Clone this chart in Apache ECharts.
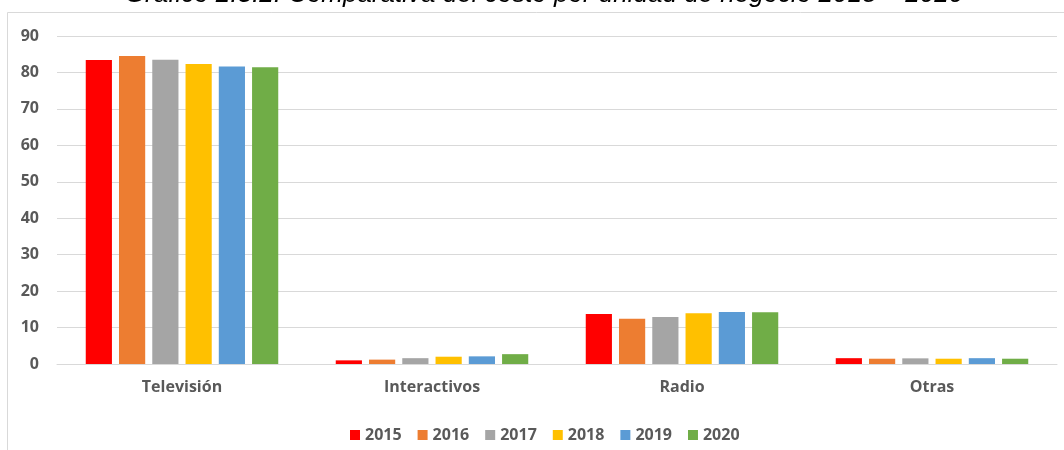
<!DOCTYPE html>
<html>
<head>
<meta charset="utf-8">
<script src="https://cdn.jsdelivr.net/npm/echarts@6/dist/echarts.min.js"></script>
<style>
  html, body { margin: 0; padding: 0; background: #fff; }
  #main { width: 1064px; height: 450px; }
</style>
</head>
<body>
<div id="main"></div>
<script>
// categories and per-year values (costo por unidad de negocio)
const categories = ['Televisión', 'Interactivos', 'Radio', 'Otras'];
const years = ['2015', '2016', '2017', '2018', '2019', '2020'];
const v2015 = [83.4, 1.0, 13.7, 1.6];
const v2016 = [84.5, 1.2, 12.4, 1.45];
const v2017 = [83.5, 1.6, 12.9, 1.55];
const v2018 = [82.3, 2.0, 13.9, 1.45];
const v2019 = [81.6, 2.1, 14.3, 1.6];
const v2020 = [81.4, 2.7, 14.2, 1.45];
const yearColors = ['#FF0000', '#ED7D31', '#A5A5A5', '#FFC000', '#5B9BD5', '#70AD47'];
const titleText = 'Gráfico 2.3.2. Comparativa del costo por unidad de negocio 2015 – 2020';

const seriesValues = [v2015, v2016, v2017, v2018, v2019, v2020];
const labelFont = '"Open Sans", "DejaVu Sans", sans-serif';

const chart = echarts.init(document.getElementById('main'));

chart.setOption({
  animation: false,
  backgroundColor: '#ffffff',
  color: yearColors,
  graphic: [
    {
      type: 'rect',
      z: -10,
      shape: { x: 7.5, y: 12.5, width: 1100, height: 500 },
      style: { fill: 'none', stroke: '#D9D9D9', lineWidth: 1 }
    },
    {
      type: 'text',
      x: 544,
      y: 8,
      style: {
        text: titleText,
        font: 'italic 26px "Liberation Sans", Arial, sans-serif',
        fill: '#000000',
        align: 'center',
        verticalAlign: 'bottom'
      }
    }
  ],
  grid: { left: 57, right: 7, top: 36, bottom: 86 },
  legend: {
    data: years,
    left: 345,
    top: 422,
    itemWidth: 10,
    itemHeight: 10,
    itemGap: 16,
    icon: 'rect',
    textStyle: { color: '#595959', fontWeight: 'bold', fontSize: 16, fontFamily: labelFont }
  },
  xAxis: {
    type: 'category',
    data: categories,
    axisLine: { lineStyle: { color: '#D9D9D9' } },
    axisTick: { show: false },
    axisLabel: { color: '#595959', fontWeight: 'bold', fontSize: 16, fontFamily: labelFont, margin: 15 }
  },
  yAxis: {
    type: 'value',
    min: 0,
    max: 90,
    interval: 10,
    axisLine: { show: false },
    axisTick: { show: false },
    splitLine: { lineStyle: { color: '#D9D9D9' } },
    axisLabel: { color: '#595959', fontWeight: 'bold', fontSize: 16, fontFamily: labelFont, margin: 18 }
  },
  series: years.map((y, i) => ({
    name: y,
    type: 'bar',
    data: seriesValues[i],
    barGap: '27%',
    barCategoryGap: '23%',
    itemStyle: { color: yearColors[i] }
  }))
});
</script>
</body>
</html>
